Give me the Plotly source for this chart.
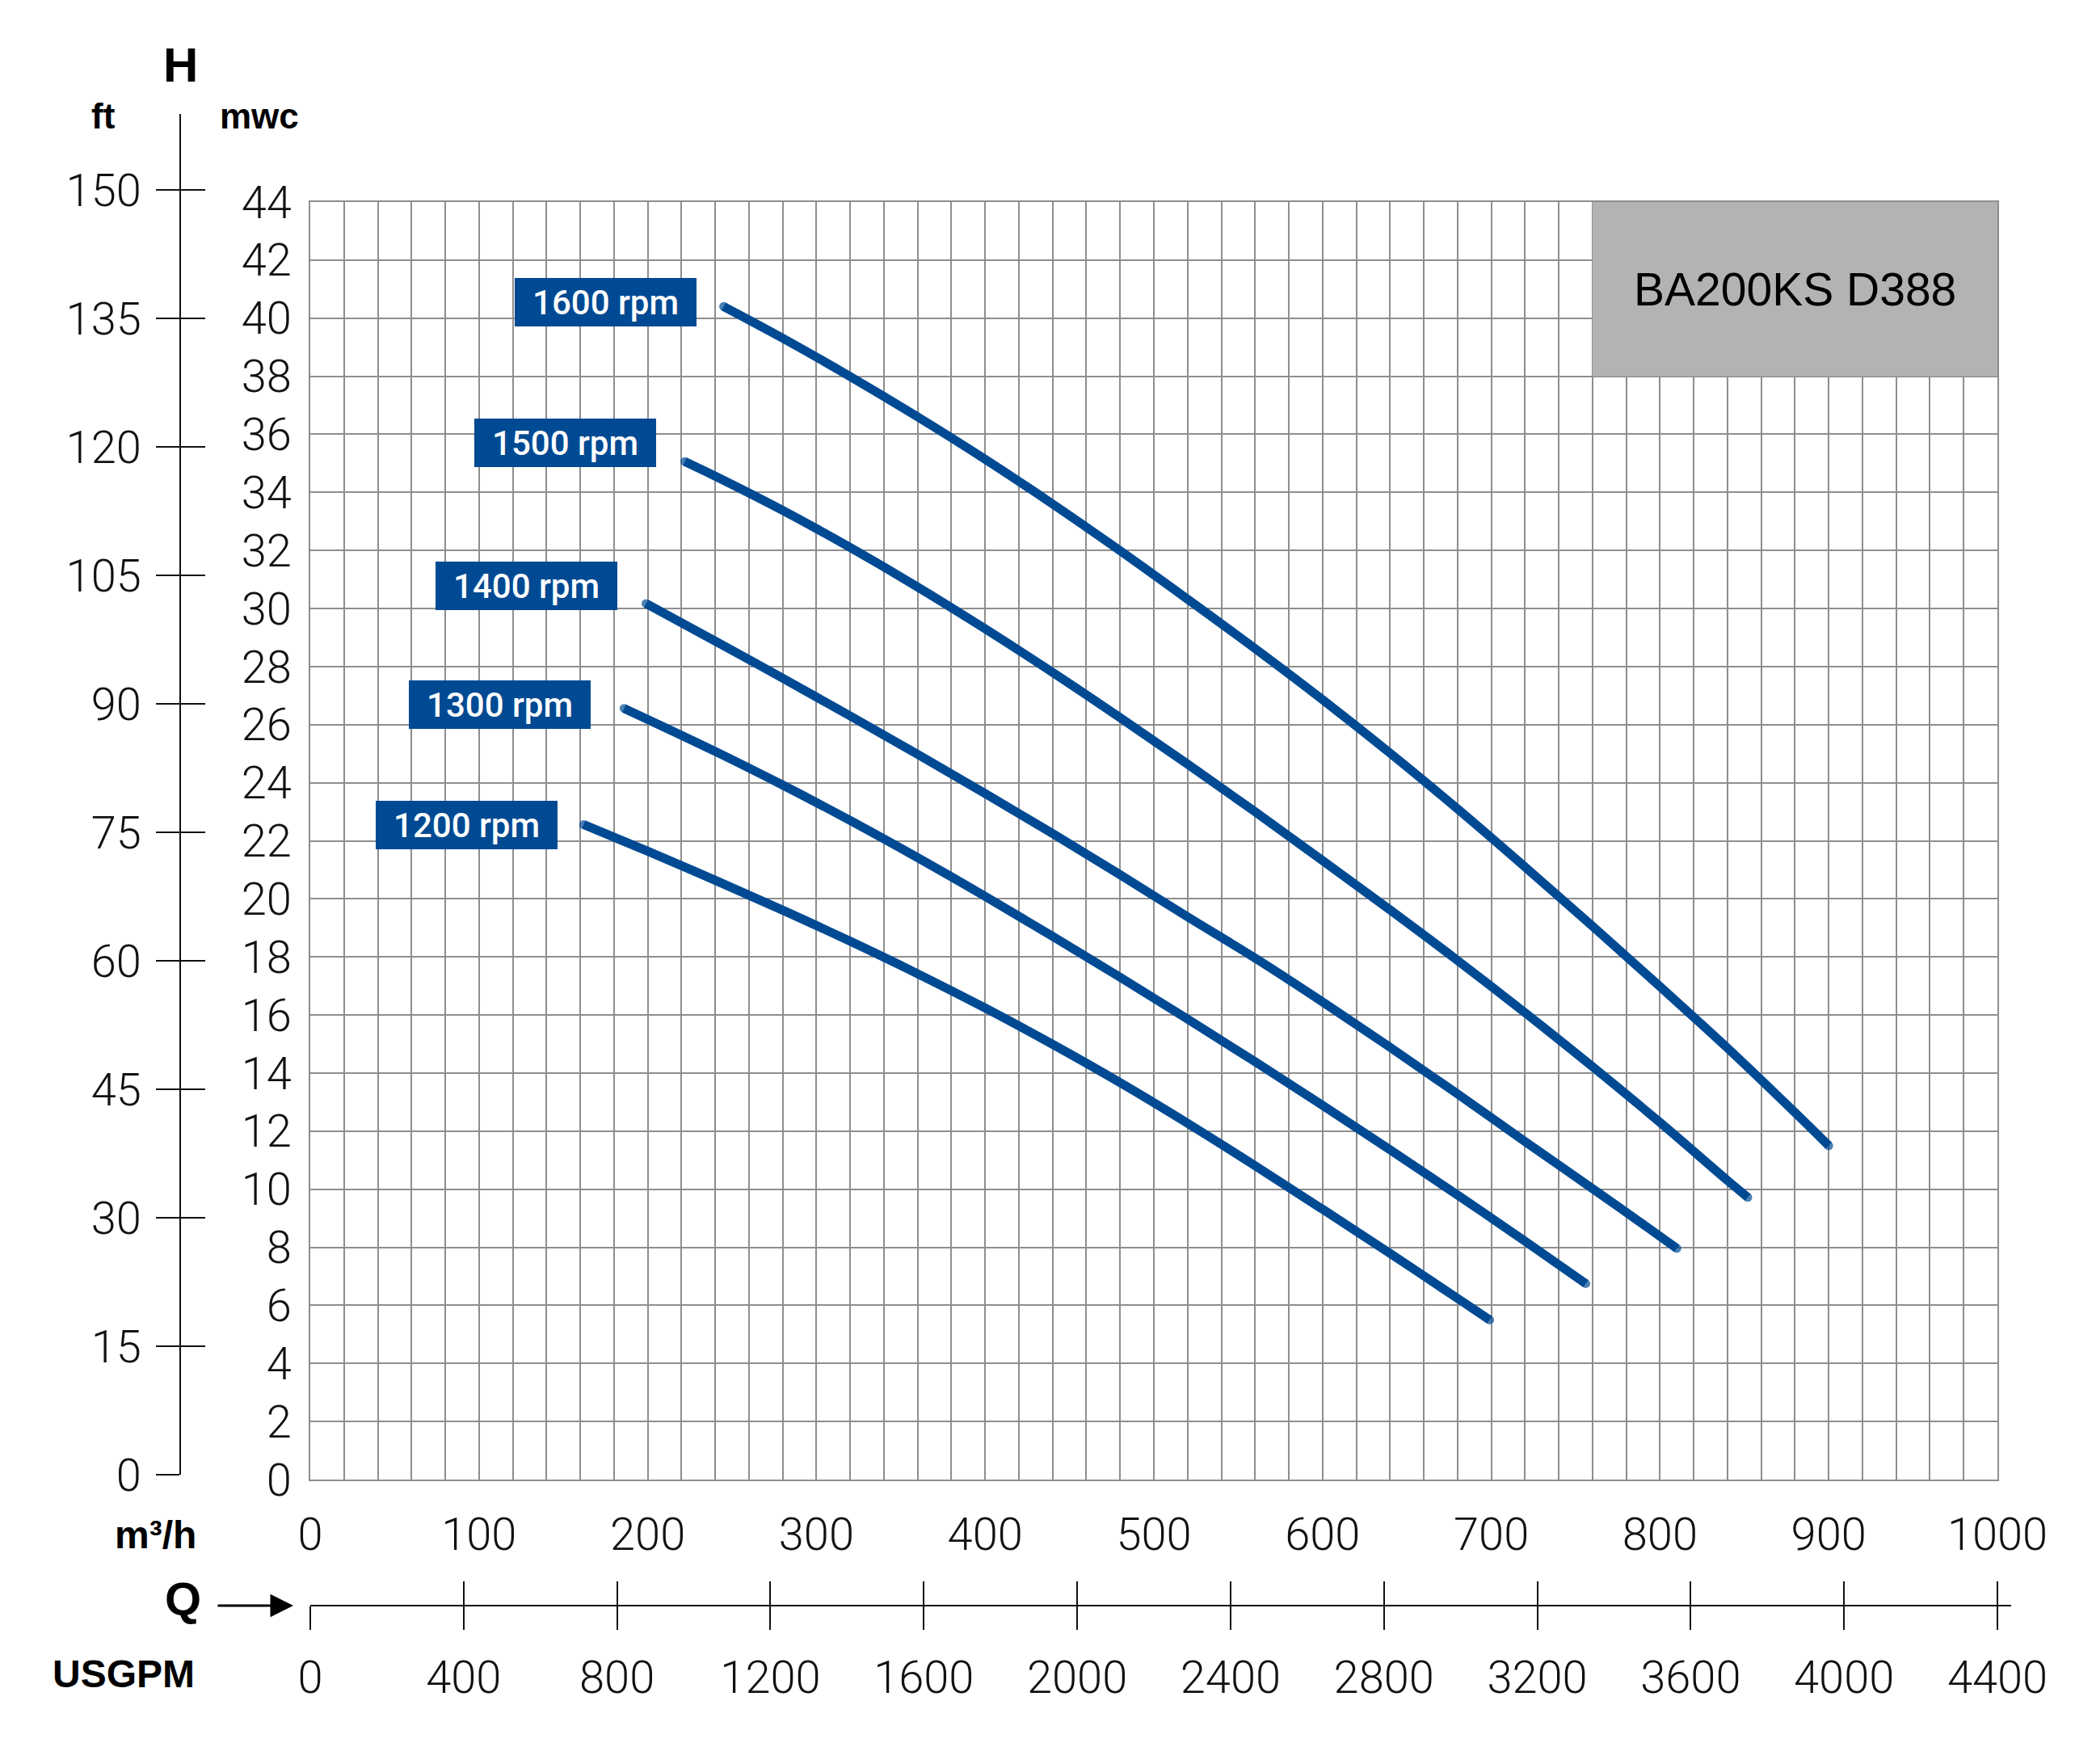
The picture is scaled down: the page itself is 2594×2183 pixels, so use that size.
import plotly.graph_objects as go

W, H = 2594, 2183

# ---------------- data ----------------
q_1600 = [245, 280, 320, 360, 400, 440, 480, 520, 560, 600, 640, 680, 720, 760, 800, 840, 880, 900]
h_1600 = [40.4, 39.31, 37.99, 36.6, 35.14, 33.6, 31.99, 30.32, 28.62, 26.86, 25.02, 23.1, 21.1, 19.06, 16.98, 14.86, 12.64, 11.5]

q_1500 = [222, 240, 280, 320, 360, 400, 440, 480, 520, 560, 600, 640, 680, 720, 760, 800, 840, 852]
h_1500 = [35.06, 34.56, 33.38, 32.1, 30.74, 29.3, 27.8, 26.24, 24.64, 23.0, 21.32, 19.62, 17.88, 16.08, 14.22, 12.3, 10.3, 9.72]

q_1400 = [199, 240, 280, 320, 360, 400, 440, 480, 520, 560, 600, 640, 680, 720, 760, 800, 810]
h_1400 = [30.17, 28.88, 27.6, 26.3, 24.98, 23.63, 22.25, 20.83, 19.38, 17.96, 16.45, 14.89, 13.28, 11.64, 10.02, 8.38, 7.96]

q_1300 = [186, 240, 280, 320, 360, 400, 440, 480, 520, 560, 600, 640, 680, 720, 756]
h_1300 = [26.56, 25.08, 23.92, 22.7, 21.42, 20.09, 18.71, 17.3, 15.86, 14.39, 12.89, 11.36, 9.8, 8.21, 6.75]

q_1200 = [162, 200, 240, 280, 320, 360, 400, 440, 480, 520, 560, 600, 640, 680, 699]
h_1200 = [22.56, 21.64, 20.64, 19.61, 18.54, 17.42, 16.24, 14.99, 13.67, 12.27, 10.81, 9.31, 7.79, 6.24, 5.5]

speed_names = ["1600 rpm", "1500 rpm", "1400 rpm", "1300 rpm", "1200 rpm"]
# label box centres (Q, H) in chart units
label_q = [175.0, 151.1, 127.9, 112.3, 92.9]
label_h = [40.55, 35.72, 30.77, 26.69, 22.53]

mwc_ticks = list(range(0, 45, 2))
m3h_ticks = list(range(0, 1001, 100))
ft_ticks = list(range(0, 151, 15))
usgpm_ticks = list(range(0, 4401, 400))

model_name = "BA200KS D388"
model_box_q = [760, 1000]
model_box_h = [38, 44]

# ---------------- styling ----------------
BLUE = "#004a93"
GRID = "#8e8e8e"
NUMFONT = dict(family="Roboto", size=56, color="#111111", weight=300)
BOLD = "Liberation Sans"


def px_x(p):
    return p / W


def px_y(p):
    return 1 - p / H


fig = go.Figure()

series = list(zip(speed_names,
                  [q_1600, q_1500, q_1400, q_1300, q_1200],
                  [h_1600, h_1500, h_1400, h_1300, h_1200]))
for name, q, h in series:
    sizes = [11] + [0] * (len(q) - 2) + [11]
    fig.add_trace(go.Scatter(
        x=q, y=h, mode="lines+markers", name=name,
        line=dict(color=BLUE, width=11, shape="spline", smoothing=1.0),
        marker=dict(size=sizes, color=BLUE, line=dict(width=0)),
        hoverinfo="skip", showlegend=False))


# helper traces so the secondary unit axes get drawn
def dummy(xa, ya):
    fig.add_trace(go.Scatter(x=[0], y=[0], xaxis=xa, yaxis=ya, mode="markers",
                             marker=dict(opacity=0, size=1), hoverinfo="skip",
                             showlegend=False))


dummy("x3", "y2")
dummy("x3", "y4")
dummy("x2", "y3")
dummy("x4", "y3")

x_dom = [px_x(384), px_x(2472)]
y_dom = [px_y(1831), px_y(250)]
ft_dom = [px_y(1825), px_y(141)]
ft_top = 150 * (1825 - 141) / (1825 - 235)
q_dom = [px_x(384), px_x(2489)]
usgpm_top = 4400 * (2489 - 384) / (2472 - 384)

common = dict(automargin=False, fixedrange=True, zeroline=False)

fig.update_layout(
    width=W, height=H, autosize=False,
    margin=dict(l=0, r=0, t=0, b=0, pad=0),
    paper_bgcolor="white", plot_bgcolor="white",
    xaxis=dict(domain=x_dom, range=[0, 1000], anchor="y",
               tickmode="array", tickvals=m3h_ticks,
               showgrid=True, gridcolor=GRID, gridwidth=2,
               minor=dict(tickmode="linear", tick0=0, dtick=20, showgrid=True,
                          gridcolor=GRID, gridwidth=2, ticks=""),
               ticks="", tickfont=NUMFONT, ticklabelstandoff=18,
               showline=True, mirror=True, linecolor=GRID, linewidth=2, **common),
    yaxis=dict(domain=y_dom, range=[0, 44], anchor="x",
               tickmode="array", tickvals=mwc_ticks,
               showgrid=True, gridcolor=GRID, gridwidth=2,
               ticks="", tickfont=NUMFONT, ticklabelstandoff=10,
               showline=True, mirror=True, linecolor=GRID, linewidth=2, **common),
    yaxis2=dict(domain=ft_dom, range=[0, ft_top], anchor="free", position=px_x(223),
                side="left", tickmode="array", tickvals=ft_ticks,
                ticks="outside", ticklen=29, tickwidth=2, tickcolor="#111111",
                showline=True, linecolor="#111111", linewidth=2,
                showgrid=False, tickfont=NUMFONT,
                ticklabelstandoff=7, **common),
    yaxis4=dict(domain=ft_dom, range=[0, ft_top], anchor="free", position=px_x(223),
                side="left", tickmode="array", tickvals=ft_ticks,
                ticks="inside", ticklen=30, tickwidth=2, tickcolor="#111111",
                showline=False, showgrid=False,
                showticklabels=False, **common),
    xaxis3=dict(domain=[0, 0.004], visible=False, anchor="y2", **common),
    xaxis2=dict(domain=q_dom, range=[0, usgpm_top], anchor="free", position=px_y(1987),
                side="bottom", tickmode="array", tickvals=usgpm_ticks,
                ticks="outside", ticklen=29, tickwidth=2, tickcolor="#111111",
                showline=True, linecolor="#111111", linewidth=2,
                showgrid=False, tickfont=NUMFONT,
                ticklabelstandoff=11, **common),
    xaxis4=dict(domain=q_dom, range=[0, usgpm_top], anchor="free", position=px_y(1987),
                side="bottom", tickmode="array", tickvals=usgpm_ticks,
                ticks="inside", ticklen=30, tickwidth=2, tickcolor="#111111",
                showline=False, showgrid=False,
                showticklabels=False, **common),
    yaxis3=dict(domain=[0, 0.004], visible=False, anchor="x2", **common),
)

# model name box
fig.add_shape(type="rect", xref="x", yref="y",
              x0=model_box_q[0], x1=model_box_q[1], y0=model_box_h[0], y1=model_box_h[1],
              fillcolor="#b2b3b5", line=dict(width=0), layer="above")
fig.add_annotation(x=sum(model_box_q) / 2, y=sum(model_box_h) / 2, xref="x", yref="y",
                   text=model_name, showarrow=False,
                   font=dict(family=BOLD, size=57, color="#000000"))

# speed labels
for name, lq, lh in zip(speed_names, label_q, label_h):
    fig.add_annotation(x=lq, y=lh, xref="x", yref="y", text=name, showarrow=False,
                       bgcolor=BLUE, width=225, height=60, borderpad=0, borderwidth=0,
                       font=dict(family="Roboto", size=42, color="white", weight=500))


# axis titles
def label(text, xp, yp, size, xanchor="center"):
    fig.add_annotation(x=px_x(xp), y=px_y(yp), xref="paper", yref="paper", text=text,
                       showarrow=False, xanchor=xanchor, yanchor="middle",
                       font=dict(family=BOLD, size=size, color="#000000", weight="bold"))


label("H", 223, 80, 60)
label("ft", 128, 144, 44)
label("mwc", 321, 144, 44)
label("m³/h", 245, 1899, 48, xanchor="right")
label("Q", 251, 1978, 58, xanchor="right")
label("USGPM", 243, 2071, 48, xanchor="right")

# Q arrow
fig.add_annotation(x=px_x(363), y=px_y(1987), xref="paper", yref="paper", text="",
                   showarrow=True, ax=-95, ay=0, arrowhead=2, arrowsize=1.9,
                   arrowwidth=3, arrowcolor="#000000")

fig.write_html("out.html")
